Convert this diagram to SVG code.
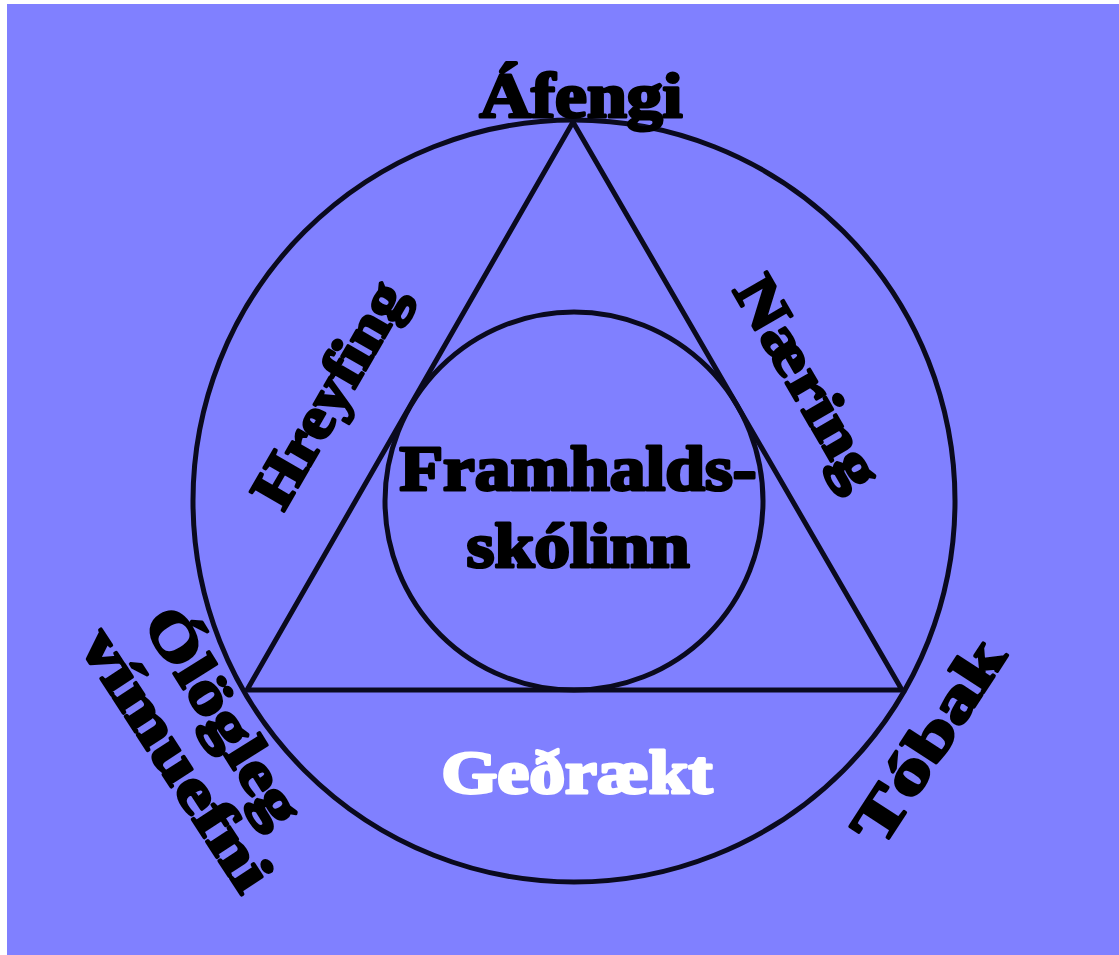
<svg xmlns="http://www.w3.org/2000/svg" width="1119" height="955" viewBox="0 0 1119 955">
<style>
.ln{fill:none;stroke:#0a0a1e;stroke-width:5}
.t{font-family:"Liberation Serif","DejaVu Serif",serif;font-weight:bold;fill:#000;stroke:#000;stroke-width:3;stroke-linejoin:round}
.w{fill:#fff;stroke:#fff}
</style>
<rect x="0" y="0" width="1119" height="955" fill="#ffffff"/>
<rect x="7" y="4" width="1112" height="951" fill="#8080ff"/>
<g id="shapes">
<circle class="ln" cx="574" cy="501" r="381"/>
<polygon class="ln" points="573,122 247,690 902,690"/>
<circle class="ln" cx="574" cy="501" r="189"/>
</g>
<g id="label-afengi"><text class="t" x="581" y="117" font-size="64" text-anchor="middle" textLength="203" lengthAdjust="spacingAndGlyphs">Áfengi</text></g>
<g id="label-center">
<text class="t" x="578" y="490" font-size="64" text-anchor="middle" textLength="357" lengthAdjust="spacingAndGlyphs">Framhalds-</text>
<text class="t" x="578" y="567" font-size="64" text-anchor="middle" textLength="223" lengthAdjust="spacingAndGlyphs">skólinn</text>
</g>
<g id="label-hreyfing"><text class="t" font-size="60" text-anchor="middle" textLength="250" lengthAdjust="spacingAndGlyphs" transform="translate(346,404) rotate(-60)">Hreyfing</text></g>
<g id="label-naering"><text class="t" font-size="60" text-anchor="middle" textLength="235" lengthAdjust="spacingAndGlyphs" transform="translate(791,392) rotate(60)">Næring</text></g>
<g id="label-ologleg">
<text class="t" font-size="60" text-anchor="middle" textLength="245" lengthAdjust="spacingAndGlyphs" transform="translate(207,727) rotate(58)">Ólögleg</text>
<text class="t" font-size="60" text-anchor="middle" textLength="300" lengthAdjust="spacingAndGlyphs" transform="translate(160,770) rotate(57)">vímuefni</text>
</g>
<g id="label-tobak"><text class="t" font-size="60" text-anchor="middle" textLength="230" lengthAdjust="spacingAndGlyphs" transform="translate(945,752) rotate(-57)">Tóbak</text></g>
<g id="label-gedraekt"><text class="t w" x="577" y="793" font-size="62" text-anchor="middle" textLength="271" lengthAdjust="spacingAndGlyphs">Geðrækt</text></g>
</svg>
